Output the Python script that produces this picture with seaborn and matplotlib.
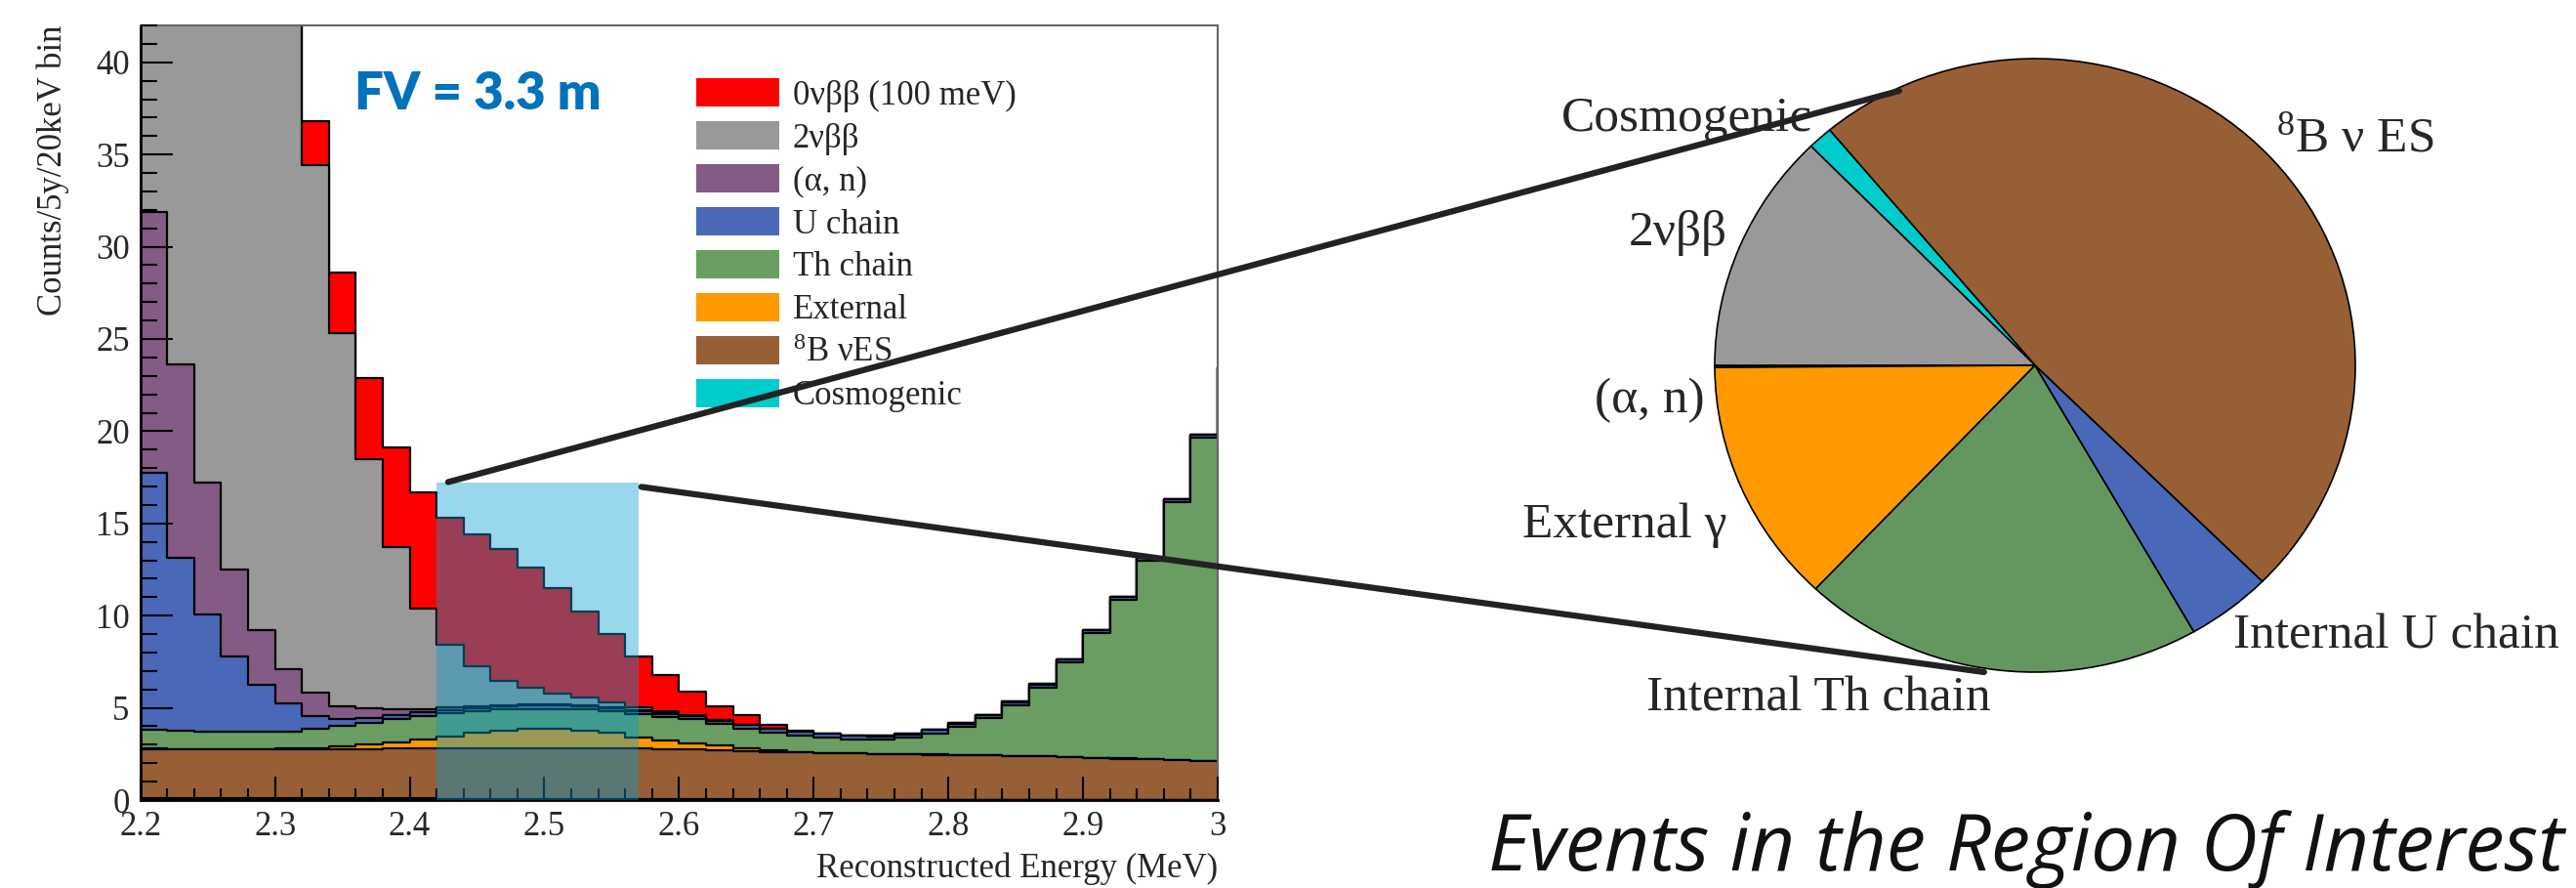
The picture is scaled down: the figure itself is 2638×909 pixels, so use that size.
import numpy as np
import pandas as pd
import matplotlib
matplotlib.use("Agg")
import matplotlib.pyplot as plt
import seaborn as sns
from matplotlib.patches import Patch, Rectangle, ConnectionPatch
from matplotlib.ticker import MultipleLocator, FixedLocator

# ---------------- data ----------------
# 20 keV bins from 2.20 MeV; last entry is the bin just above 3.0 MeV
bin_edges = [round(v, 2) for v in np.linspace(2.20, 3.02, 42)]
bin_centers = [round(v + 0.01, 3) for v in bin_edges[:-1]]

cosmogenic = [0.10, 0.10, 0.10, 0.10, 0.10, 0.10, 0.10, 0.09, 0.09, 0.08, 0.08,
              0.07, 0.07, 0.06, 0.06, 0.06, 0.05, 0.05, 0.05, 0.04, 0.04,
              0.04, 0.03, 0.03, 0.03, 0.03, 0.02, 0.02, 0.02, 0.02, 0.02,
              0.02, 0.02, 0.02, 0.02, 0.02, 0.02, 0.02, 0.02, 0.02, 0.02]
b8_es = [2.68, 2.66, 2.65, 2.65, 2.65, 2.65, 2.66, 2.68, 2.69, 2.71, 2.72,
         2.74, 2.75, 2.76, 2.76, 2.76, 2.76, 2.75, 2.74, 2.73, 2.70,
         2.66, 2.63, 2.59, 2.55, 2.52, 2.50, 2.48, 2.46, 2.44, 2.42,
         2.40, 2.37, 2.34, 2.31, 2.27, 2.23, 2.18, 2.13, 2.08, 2.03]
external = [0.02, 0.02, 0.02, 0.03, 0.03, 0.04, 0.06, 0.12, 0.22, 0.35, 0.48,
            0.65, 0.82, 0.95, 1.02, 1.02, 0.95, 0.85, 0.62, 0.45, 0.35,
            0.25, 0.15, 0.08, 0.03, 0.01, 0.01, 0.01, 0.01, 0.01, 0.01,
            0.01, 0.01, 0.01, 0.01, 0.01, 0.01, 0.01, 0.01, 0.01, 0.00]
th_chain = [1.00, 0.97, 0.95, 0.92, 0.92, 0.93, 1.03, 1.11, 1.20, 1.26, 1.27,
            1.24, 1.16, 1.13, 1.11, 1.11, 1.14, 1.15, 1.24, 1.28, 1.28,
            1.17, 1.07, 0.98, 0.91, 0.84, 0.77, 0.77, 0.89, 1.15, 1.52,
            2.02, 2.75, 3.73, 5.11, 6.75, 8.59, 10.74, 13.99, 17.54, 21.25]
u_chain = [13.95, 9.40, 6.35, 4.10, 2.55, 1.50, 0.72, 0.38, 0.26, 0.22, 0.20,
           0.19, 0.19, 0.19, 0.19, 0.19, 0.19, 0.19, 0.18, 0.18, 0.18,
           0.18, 0.18, 0.18, 0.18, 0.18, 0.18, 0.18, 0.18, 0.18, 0.18,
           0.17, 0.17, 0.17, 0.16, 0.16, 0.16, 0.16, 0.15, 0.15, 0.15]
alpha_n = [14.15, 10.45, 7.13, 4.70, 2.95, 1.88, 1.23, 0.72, 0.54, 0.33, 0.20,
           0.12, 0.08, 0.05, 0.04, 0.03, 0.03, 0.03, 0.03, 0.03, 0.02,
           0.02, 0.02, 0.02, 0.02, 0.02, 0.02, 0.02, 0.02, 0.02, 0.02,
           0.01, 0.01, 0.01, 0.01, 0.01, 0.01, 0.01, 0.01, 0.01, 0.01]
two_nu = [185.0, 140.0, 104.0, 77.0, 56.0, 40.0, 28.6, 20.2, 13.5, 8.75, 5.45,
          3.40, 2.20, 1.30, 0.90, 0.62, 0.42, 0.28, 0.17, 0.10, 0.05,
          0.02, 0.01, 0.00, 0.00, 0.00, 0.00, 0.00, 0.00, 0.00, 0.00,
          0.00, 0.00, 0.00, 0.00, 0.00, 0.00, 0.00, 0.00, 0.00, 0.00]
zero_nu = [0.10, 0.20, 0.30, 0.60, 1.00, 1.60, 2.40, 3.30, 4.40, 5.40, 6.30,
           6.89, 7.13, 7.16, 6.52, 5.71, 4.66, 3.70, 2.76, 1.98, 1.28,
           0.76, 0.52, 0.20, 0.03, 0.00, 0.00, 0.00, 0.00, 0.00, 0.00,
           0.00, 0.00, 0.00, 0.00, 0.00, 0.00, 0.00, 0.00, 0.00, 0.00]

# stack order bottom -> top
stack_values = [cosmogenic, b8_es, external, th_chain, u_chain, alpha_n, two_nu, zero_nu]
stack_labels = ["Cosmogenic", "$^{8}$B νES", "External", "Th chain", "U chain",
                "(α, n)", "2νββ", "0νββ (100 meV)"]
stack_colors = ["#00CCCC", "#965F35", "#FF9900", "#6A9D62", "#4A68B8",
                "#845B84", "#999999", "#FF0000"]

roi_range = [2.42, 2.57]
roi_top = 17.2

x_ticks = [2.2, 2.3, 2.4, 2.5, 2.6, 2.7, 2.8, 2.9, 3.0]
x_ticklabels = ["2.2", "2.3", "2.4", "2.5", "2.6", "2.7", "2.8", "2.9", "3"]

pie_labels = ["$^{8}$B ν ES", "Cosmogenic", "2νββ", "(α, n)", "External γ",
              "Internal Th chain", "Internal U chain"]
pie_values = [48.6, 1.25, 12.7, 0.1, 12.9, 20.3, 4.3]
pie_colors = ["#965F35", "#00CCCC", "#999999", "#845B84", "#FF9900", "#64975F", "#4A68B8"]

# ---------------- style ----------------
sns.set_style("white")
plt.rcParams["font.family"] = ["Liberation Serif", "DejaVu Serif"]
plt.rcParams["mathtext.fontset"] = "custom"
plt.rcParams["mathtext.rm"] = "Liberation Serif"
plt.rcParams["mathtext.it"] = "Liberation Serif:italic"
plt.rcParams["mathtext.bf"] = "Liberation Serif:bold"

W, H = 2638, 909
fig = plt.figure(figsize=(W / 100, H / 100), dpi=100)
fig.patch.set_facecolor("white")

ax = fig.add_axes([143.75 / W, (H - 819) / H, (1247 - 143.75) / W, (819 - 26) / H])
ax.set_axisbelow(False)

cum = np.cumsum(np.array(stack_values), axis=0)
for i in reversed(range(len(stack_values))):
    df = pd.DataFrame({"energy": bin_centers, "counts": cum[i]})
    sns.histplot(data=df, x="energy", weights="counts", bins=bin_edges, element="step",
                 fill=True, color=stack_colors[i], alpha=1, edgecolor="black",
                 linewidth=1.6, ax=ax)

ax.add_patch(Rectangle((roi_range[0], 0), roi_range[1] - roi_range[0], roi_top,
                       facecolor="#009CD4", alpha=0.4, edgecolor="none", zorder=5))

ax.set_xlim(2.2, 3.0)
ax.set_ylim(0, 42)
ax.xaxis.set_major_locator(FixedLocator(x_ticks))
ax.set_xticklabels(x_ticklabels)
ax.xaxis.set_minor_locator(MultipleLocator(0.02))
ax.yaxis.set_major_locator(MultipleLocator(5))
ax.yaxis.set_minor_locator(MultipleLocator(1))
ax.tick_params(which="both", direction="in", top=False, right=False, color="black",
               bottom=True, left=True)
ax.tick_params(axis="x", which="major", length=17, width=1.5, labelsize=25, pad=8)
ax.tick_params(axis="x", which="minor", length=8.5, width=1.5)
ax.tick_params(axis="y", which="major", length=24, width=1.5, labelsize=25, pad=8)
ax.tick_params(axis="y", which="minor", length=12, width=1.5)
for s in ["left", "bottom"]:
    ax.spines[s].set_color("black")
    ax.spines[s].set_linewidth(2)
for s in ["top", "right"]:
    ax.spines[s].set_color("#666666")
    ax.spines[s].set_linewidth(1.5)

ax.set_ylabel("Counts/5y/20keV bin", fontsize=25, loc="top")
ax.yaxis.set_label_coords(-0.066, 1.0)
ax.set_xlabel("Reconstructed Energy (MeV)", fontsize=25, loc="right")
ax.xaxis.set_label_coords(1.0, -0.067)

fig.text(363 / W, 1 - 112 / H, "FV = 3.3 m", fontsize=38, fontweight="heavy",
         color="#0072BB", family=["Lato", "DejaVu Sans"], ha="left", va="baseline")

handles = [Patch(facecolor=c, edgecolor="none") for c in stack_colors[::-1]]
ax.legend(handles, stack_labels[::-1], loc="upper left",
          bbox_to_anchor=(713 / W, 1 - 80 / H), bbox_transform=fig.transFigure,
          frameon=False, fontsize=25, handlelength=2.45, handleheight=0.92,
          handletextpad=0.4, labelspacing=0.27, borderpad=0, borderaxespad=0)

# ---------------- pie ----------------
axp = fig.add_axes([1756 / W, (H - 688) / H, 656 / W, 628 / H])
axp.pie(pie_values, colors=pie_colors, startangle=315.2, counterclock=True,
        wedgeprops=dict(edgecolor="black", linewidth=1.2))
axp.set_aspect("auto")
axp.set_xlim(-1, 1)
axp.set_ylim(-1, 1)
axp.axis("off")

label_pos = [(1.0, 0.739), (-1.088, 0.803), (-1.116, 0.433), (-1.204, -0.115),
             (-1.28, -0.522), (-0.677, -1.086), (1.128, -0.882)]
for name, (lx, ly) in zip(pie_labels, label_pos):
    axp.text(lx, ly, name, ha="center", va="center", fontsize=37, clip_on=False)

for xa, xb in [((2.4285, 17.24), (-0.424, 0.895)), ((2.572, 16.98), (-0.159, -1.0))]:
    con = ConnectionPatch(xyA=xa, coordsA="data", axesA=ax, xyB=xb, coordsB="data",
                          axesB=axp, color="#222222", linewidth=4.5, zorder=10)
    fig.add_artist(con)

fig.text(2075 / W, 1 - 870 / H, "Events in the Region Of Interest", fontsize=58,
         style="italic", family=["Open Sans", "DejaVu Sans"], ha="center", va="center",
         color="#111111")

fig.savefig("out.png", dpi=100)
